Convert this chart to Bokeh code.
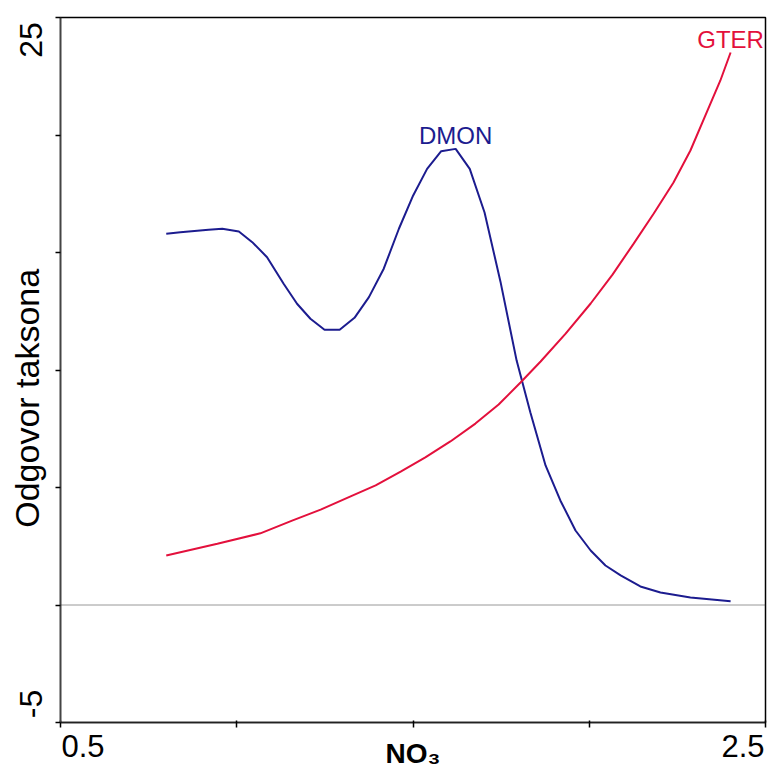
from bokeh.plotting import figure
from bokeh.models import LinearAxis, FixedTicker, Span, Range1d, Label
from bokeh.embed import file_html
from bokeh.resources import INLINE

# ---- data ----
x_ticks = [0.5, 1.0, 1.5, 2.0, 2.5]
y_ticks = [-5, 0, 5, 10, 15, 20, 25]
x_tick_labels = ["0.5", "2.5"]
y_tick_labels = ["-5", "25"]
x_title = "NO\u2083"
y_title = "Odgovor taksona"

dmon_x = [0.800, 0.840, 0.880, 0.920, 0.959, 1.006, 1.044, 1.086, 1.133, 1.171,
          1.209, 1.249, 1.292, 1.334, 1.375, 1.417, 1.460, 1.499, 1.540, 1.580,
          1.621, 1.661, 1.703, 1.748, 1.794, 1.833, 1.876, 1.918, 1.961, 2.004,
          2.046, 2.089, 2.145, 2.202, 2.287, 2.401]
dmon_y = [15.80, 15.86, 15.92, 15.97, 16.01, 15.89, 15.44, 14.80, 13.67, 12.82,
          12.18, 11.71, 11.71, 12.22, 13.10, 14.31, 16.01, 17.38, 18.56, 19.31,
          19.41, 18.56, 16.70, 13.77, 10.40, 8.19, 5.94, 4.45, 3.17, 2.32,
          1.68, 1.26, 0.79, 0.53, 0.32, 0.16]

gter_x = [0.800, 0.945, 1.067, 1.157, 1.238, 1.323, 1.394, 1.465, 1.535, 1.606,
          1.677, 1.743, 1.805, 1.862, 1.933, 2.004, 2.066, 2.126, 2.183, 2.239,
          2.287, 2.338, 2.372, 2.401]
gter_y = [2.11, 2.61, 3.05, 3.59, 4.06, 4.62, 5.09, 5.68, 6.28, 6.96,
          7.72, 8.53, 9.47, 10.36, 11.55, 12.83, 14.06, 15.38, 16.66, 17.98,
          19.34, 21.13, 22.32, 23.51]

DMON_COLOR = "#1c1c8f"
GTER_COLOR = "#e3103c"
FONT = "Liberation Sans"

x0, x1 = x_ticks[0], x_ticks[-1]
y0, y1 = y_ticks[0], y_ticks[-1]

p = figure(width=767, height=776, output_backend="svg", toolbar_location=None,
           x_range=Range1d(x0, x1), y_range=Range1d(y0, y1),
           min_border_left=60, min_border_top=17, min_border_right=2,
           min_border_bottom=54)
p.grid.visible = False
p.background_fill_color = "white"
p.border_fill_color = "white"
p.outline_line_color = "black"
p.outline_line_width = 1.5

# tick-only axes
xa = p.xaxis[0]
xa.ticker = FixedTicker(ticks=x_ticks)
xa.major_tick_in = 2
xa.major_tick_out = 5
xa.minor_tick_line_color = None
xa.major_label_text_font_size = "1px"
xa.major_label_text_color = None
xa.major_label_standoff = 0
xa.axis_line_width = 1.5
xa.axis_line_color = "#222222"
xa.major_tick_line_width = 1.5

ya = p.yaxis[0]
ya.ticker = FixedTicker(ticks=y_ticks)
ya.major_tick_in = 0
ya.major_tick_out = 5
ya.minor_tick_line_color = None
ya.major_label_text_font_size = "1px"
ya.major_label_text_color = None
ya.major_label_standoff = 0
ya.axis_line_width = 1.5
ya.axis_line_color = "#444444"
ya.major_tick_line_width = 1.5

# label axes (end labels sit just inside the end ticks)
x_off = 0.064
x_lab_pos = [x0 + x_off, x1 - x_off]
xl = LinearAxis(ticker=FixedTicker(ticks=x_lab_pos),
                major_label_overrides={x_lab_pos[0]: x_tick_labels[0], x_lab_pos[1]: x_tick_labels[1]},
                axis_line_color=None, major_tick_line_color=None, minor_tick_line_color=None,
                major_tick_in=0, major_tick_out=0, major_label_standoff=7,
                major_label_text_font=FONT, major_label_text_font_size="31px",
                major_label_text_color="black",
                axis_label=x_title, axis_label_text_font=FONT, axis_label_text_font_size="28px",
                axis_label_text_font_style="bold", axis_label_text_color="black",
                axis_label_standoff=-22)
p.add_layout(xl, "below")

# y title is padded at its end (top) with no-break spaces so it sits a bit
# below the middle of the axis, as in the original
y_title_padded = y_title + "\u00a0" * 6
y_lab_pos = [y0 + 0.79, y1 - 0.96]
yl = LinearAxis(ticker=FixedTicker(ticks=y_lab_pos),
                major_label_overrides={y_lab_pos[0]: y_tick_labels[0], y_lab_pos[1]: y_tick_labels[1]},
                major_label_orientation="vertical",
                axis_line_color=None, major_tick_line_color=None, minor_tick_line_color=None,
                major_tick_in=0, major_tick_out=0, major_label_standoff=13,
                major_label_text_font=FONT, major_label_text_font_size="32px",
                major_label_text_color="black",
                axis_label=y_title_padded, axis_label_text_font=FONT,
                axis_label_text_font_size="34px", axis_label_text_font_style="normal",
                axis_label_text_color="black", axis_label_standoff=-28)
p.add_layout(yl, "left")

# zero line
p.add_layout(Span(location=0, dimension="width", line_color="#333333",
                  line_width=1, line_dash="1 1"))

p.line(dmon_x, dmon_y, line_color=DMON_COLOR, line_width=2)
p.line(gter_x, gter_y, line_color=GTER_COLOR, line_width=2)

# species labels: DMON at its peak, GTER at its end
i_peak = max(range(len(dmon_y)), key=lambda i: dmon_y[i])
p.add_layout(Label(x=dmon_x[i_peak], y=dmon_y[i_peak], text="DMON",
                   text_align="center", text_baseline="bottom",
                   text_font=FONT, text_font_size="24px", text_color=DMON_COLOR))
p.add_layout(Label(x=gter_x[-1], y=gter_y[-1], text="GTER",
                   text_align="center", text_baseline="bottom",
                   text_font=FONT, text_font_size="24px", text_color=GTER_COLOR))

open("out.html", "w").write(file_html(p, INLINE))
